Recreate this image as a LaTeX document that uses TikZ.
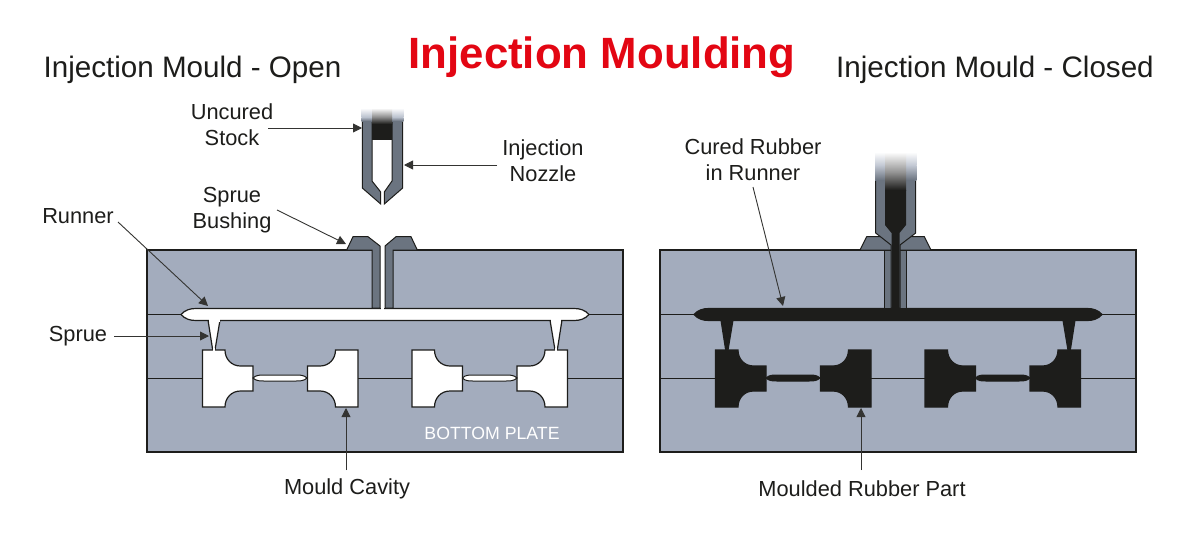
\documentclass[tikz,border=0pt]{standalone}
\usepackage{fontspec}
\setmainfont{Liberation Sans}
\usetikzlibrary{arrows.meta,calc}
\definecolor{plate}{HTML}{A3ACBD}
\definecolor{steel}{HTML}{6B7480}
\definecolor{ink}{HTML}{1D1D1B}
\definecolor{titlered}{HTML}{E30613}
\tikzset{
 edge/.style={draw=ink,line width=1.2pt,line join=miter},
 thinedge/.style={draw=ink,line width=1pt},
 lbl/.style={inner sep=0pt,align=center,text=ink,font=\fontsize{21.8}{26}\selectfont},
 head/.style={inner sep=0pt,text=ink,font=\fontsize{29.6}{32}\selectfont},
 callout/.style={draw=ink!90,line width=0.9pt,-{Triangle[length=9pt,width=9pt]}},
}
\newcommand{\teepath}{(0,350) -- (22.5,350) .. controls (22.5,359) and (29,366) .. (38,366) -- (50.5,366) -- (50.5,391) -- (38,391) .. controls (29,391) and (22.5,398) .. (22.5,407) -- (0,407) -- cycle}
% #1 cavity fill
\newcommand{\mouldbody}[1]{
 \fill[plate] (147,250) rectangle (623,452);
 \draw[thinedge] (147,314) -- (623,314);
 \draw[thinedge] (147,378) -- (623,378);
 \draw[edge] (147,250) rectangle (623,452);
 \path[edge,fill=#1] (208,320) -- (212.7,350) -- (215,350) -- (220,320) -- cycle;
 \path[edge,fill=#1] (550,320) -- (555,350) -- (557.3,350) -- (562,320) -- cycle;
 \path[edge,fill=#1] (181,314.5) .. controls (185,310) and (190,308.5) .. (196,308.5) -- (574,308.5) .. controls (580,308.5) and (585,310) .. (589,314.5) .. controls (585,319) and (580,320.5) .. (574,320.5) -- (196,320.5) .. controls (190,320.5) and (185,319) .. (181,314.5) -- cycle;
 \fill[#1] (209,318) rectangle (219.5,322);
 \fill[#1] (550.5,318) rectangle (561,322);
 \begin{scope}[shift={(202.5,0)}]\path[edge,fill=#1] \teepath;\end{scope}
 \begin{scope}[shift={(358,0)},xscale=-1]\path[edge,fill=#1] \teepath;\end{scope}
 \begin{scope}[shift={(412,0)}]\path[edge,fill=#1] \teepath;\end{scope}
 \begin{scope}[shift={(567.5,0)},xscale=-1]\path[edge,fill=#1] \teepath;\end{scope}
 \path[thinedge,fill=#1] (253,378) .. controls (256,375) and (260,375) .. (264,375) -- (296,375) .. controls (300,375) and (304,375) .. (307,378) .. controls (304,381) and (300,381) .. (296,381) -- (264,381) .. controls (260,381) and (256,381) .. (253,378) -- cycle;
 \path[thinedge,fill=#1] (462.5,378) .. controls (465,375) and (469,375) .. (473,375) -- (506,375) .. controls (510,375) and (514,375) .. (517,378) .. controls (514,381) and (510,381) .. (506,381) -- (473,381) .. controls (469,381) and (465,381) .. (462.5,378) -- cycle;
 \fill[#1] (212.9,348) rectangle (214.9,352);
 \fill[#1] (555.2,348) rectangle (557.1,352);
}
\begin{document}
\begin{tikzpicture}[x=1pt,y=-1pt]
\useasboundingbox (0,0) rectangle (1200,541);
\fill[white] (0,0) rectangle (1200,541);

% ---------- open mould
\begin{scope}
 \mouldbody{white}
 \fill[white] (372.5,249) rectangle (392.5,307.5);
 \path[edge,fill=steel,line width=1pt] (346.7,250) -- (353,236.7) -- (368,236.7) -- (380,246) -- (380,308) -- (372,308) -- (372,250) -- cycle;
 \path[edge,fill=steel,line width=1pt] (417.3,250) -- (411,236.7) -- (396,236.7) -- (385,246) -- (385,308) -- (393,308) -- (393,250) -- cycle;
 \fill[white] (380.7,306) rectangle (384.3,312);
 \node[inner sep=0pt,white,font=\fontsize{17.7}{20}\selectfont] (bottomplate) at (492,433) {BOTTOM PLATE};
\end{scope}
% nozzle, open
\path[edge,fill=steel,line width=1pt] (362.3,118) -- (362.3,188) -- (380.7,204) -- (380.7,192) -- (372,181) -- (372,118) -- cycle;
\path[edge,fill=steel,line width=1pt] (402.7,118) -- (402.7,188) -- (384.3,204) -- (384.3,192) -- (392,181) -- (392,118) -- cycle;
\fill[top color=white,bottom color=plate!75!white] (361.6,108) rectangle (403.4,117);
\fill[top color=plate!75!white,bottom color=steel] (361.6,117) rectangle (403.4,121);
\fill[top color=white,bottom color=black!45] (372,108) rectangle (392,117);
\fill[top color=black!45,bottom color=ink] (372,117) rectangle (392,124);
\fill[ink] (372,124) rectangle (392,139.5);

% ---------- closed mould
\begin{scope}[shift={(513,0)}]
 \mouldbody{ink}
\end{scope}
\path[edge,fill=steel,line width=1pt] (860,250) -- (866.7,236.7) -- (924.3,236.7) -- (931,250) -- cycle;
\path[edge,fill=steel,line width=1pt] (884.5,250) rectangle (906.5,308.5);
\path[edge,fill=steel,line width=1pt] (875.7,162) -- (875.7,233) -- (891,245) -- (891,308) -- (900,308) -- (900,245) -- (915.7,233) -- (915.7,162) -- cycle;
\fill[top color=white,bottom color=plate!65!white] (875,152) rectangle (916.4,165);
\fill[top color=plate!65!white,bottom color=steel] (875,165) rectangle (916.4,180);
\fill[top color=white,bottom color=black!42] (885,152) rectangle (906,172);
\fill[top color=black!42,bottom color=ink] (885,172) rectangle (906,190);
\fill[ink] (885,190) -- (906,190) -- (906,225) -- (899.5,233) -- (899.5,312) -- (891.5,312) -- (891.5,233) -- (885,225) -- cycle;

% ---------- headings
\node[inner sep=0pt,text=titlered,font=\bfseries\fontsize{43.8}{46}\selectfont] (title) at (602,57) {Injection Moulding};
\node[head] (headopen) at (192.5,70) {Injection Mould - Open};
\node[head] (headclosed) at (995,70) {Injection Mould - Closed};

% ---------- labels
\node[lbl] (uncured) at (232,125) {Uncured\\Stock};
\node[lbl] (nozzlelbl) at (543,160.5) {Injection\\Nozzle};
\node[lbl] (bushing) at (232,210) {Sprue\\Bushing};
\node[lbl] (runner) at (78,216) {Runner};
\node[lbl] (sprue) at (78,336) {Sprue};
\node[lbl] (cavity) at (347,489) {Mould Cavity};
\node[lbl] (cured) at (753,160) {Cured Rubber\\in Runner};
\node[lbl] (part) at (862,489) {Moulded Rubber Part};

% ---------- targets
\coordinate (tUncured) at (362,128);
\coordinate (tNozzle) at (404,165);
\coordinate (tBushing) at (346,244);
\coordinate (tRunner) at (208,306);
\coordinate (tSprue) at (209,336);
\coordinate (tCavity) at (346,408);
\coordinate (tCured) at (783,306);
\coordinate (tPart) at (861,408);

% ---------- callouts
\draw[callout] (uncured.center -| 268,0) ++(0,3) -- (tUncured);
\draw[callout] (nozzlelbl.center -| 497,0) ++(0,4.5) -- (tNozzle);
\draw[callout] (bushing.center -| 277,0) -- (tBushing);
\draw[callout] ($(runner.center)+(40,6)$) -- (tRunner);
\draw[callout] ($(sprue.center)+(36,0)$) -- (tSprue);
\draw[callout] ($(cavity.center)+(-1,-19)$) -- (tCavity);
\draw[callout] ($(cured.center)+(0,27)$) -- (tCured);
\draw[callout] ($(part.center)+(-1,-19)$) -- (tPart);
\end{tikzpicture}
\end{document}
